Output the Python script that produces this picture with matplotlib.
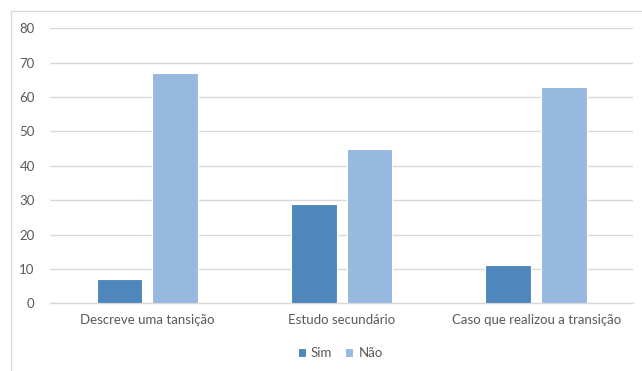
import matplotlib
matplotlib.use("Agg")
import matplotlib.pyplot as plt
import numpy as np
from matplotlib.patches import Rectangle

categories = ["Descreve uma tansição", "Estudo secundário", "Caso que realizou a transição"]
sim = [7, 29, 11]
nao = [67, 45, 63]
series_names = ["Sim", "Não"]
yticks = [0, 10, 20, 30, 40, 50, 60, 70, 80]

plt.rcParams['font.family'] = ['Lato', 'DejaVu Sans']
fig = plt.figure(figsize=(6.42, 3.71), dpi=100)
fig.patch.set_facecolor('white')
fig.patches.append(Rectangle((11/642, -0.1), 1.2, 1 - 11/371 + 0.1, transform=fig.transFigure,
                             fill=False, edgecolor='#D9D9D9', linewidth=1.0))
ax = fig.add_axes([50/642, 1 - 303.3/371, (633.3 - 50)/642, (303.3 - 28.3)/371])

x = np.arange(len(categories))
w = 0.235
c_sim = '#4F87BC'
c_nao = '#97B8DF'
ax.bar(x - 0.143, sim, w, color=c_sim, edgecolor='white', linewidth=0.8, label=series_names[0], zorder=3)
ax.bar(x + 0.143, nao, w, color=c_nao, edgecolor='white', linewidth=0.8, label=series_names[1], zorder=3)

ax.set_xlim(-0.5, 2.5)
ax.set_ylim(0, 80)
ax.set_yticks(yticks)
ax.set_xticks(x)
ax.set_xticklabels(categories)
ax.yaxis.grid(True, color='#D9D9D9', linewidth=1.0, zorder=0)
ax.set_axisbelow(True)
for s in ['top', 'right', 'left']:
    ax.spines[s].set_visible(False)
ax.spines['bottom'].set_color('#D9D9D9')
ax.spines['bottom'].set_linewidth(1.0)
ax.tick_params(axis='y', length=0, pad=11, labelsize=9.5, labelcolor='#595959')
ax.tick_params(axis='x', length=0, pad=8, labelsize=9.5, labelcolor='#595959')

leg = fig.legend(loc='center', bbox_to_anchor=(0.53, 1 - 353/371), ncol=2, frameon=False,
                 fontsize=9.5, handlelength=0.6, handleheight=0.6, handletextpad=0.4,
                 columnspacing=1.0, labelcolor='#595959')

fig.savefig('out.png', dpi=100, facecolor='white')
